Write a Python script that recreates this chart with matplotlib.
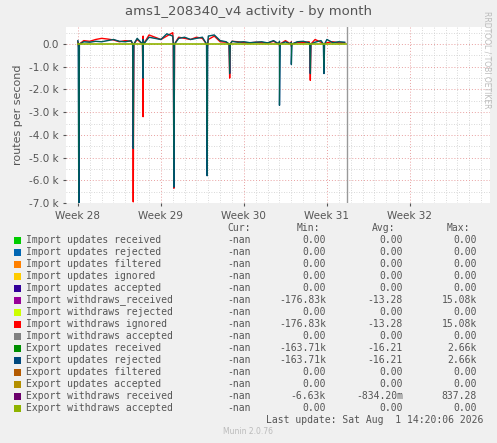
import matplotlib
matplotlib.use("Agg")
import matplotlib.pyplot as plt
import numpy as np

W, H = 497, 443
# baseline (every 0.5 day, days since Week 28 start)
base_days = [i * 0.5 for i in range(46)]
red_base = [100, 150, 120, 200, 250, 220, 180, 100, 150, 120, 200, 350, 400, 300, 200, 350,
            500, 300, 250, 200, 300, 250, 200, 350, 100, 80, 120, 100, 60, 50, 80, 60, 50, 120,
            80, 150, 100, 80, 60, 100, 200, 80, 60, 100, 50, 60]
teal_base = [150, 100, 80, 120, 100, 150, 200, 120, 100, 150, 250, 200, 300, 250, 200, 450,
             350, 250, 300, 200, 250, 300, 350, 400, 150, 100, 120, 80, 100, 60, 80, 100, 50, 150,
             120, 100, 80, 100, 120, 60, 80, 150, 200, 60, 100, 80]
# spikes: day, red (import withdraws ignored), teal (export updates rejected)
spike_days = [0.08, 4.67, 5.5, 8.1, 10.9, 12.8, 17.0, 18.0, 19.6, 20.75]
spike_red = [-200, -6950, -3200, -6350, -300, -1500, -100, -100, -1600, -100]
spike_teal = [-7000, -4600, -1500, -6300, -5800, -1300, -2700, -900, -1300, -1300]
end_day = 22.7

names = ["Import updates received", "Import updates rejected", "Import updates filtered",
         "Import updates ignored", "Import updates accepted", "Import withdraws_received",
         "Import withdraws rejected", "Import withdraws ignored", "Import withdraws accepted",
         "Export updates received", "Export updates rejected", "Export updates filtered",
         "Export updates accepted", "Export withdraws received", "Export withdraws accepted"]
colors = ["#00cc00", "#0066b3", "#ff8000", "#ffcc00", "#330099", "#990099", "#ccff00",
          "#ff0000", "#808080", "#008f00", "#00487d", "#b35a00", "#b38f00", "#6b006b", "#8fb300"]
cur = ["-nan"] * 15
mins = ["0.00", "0.00", "0.00", "0.00", "0.00", "-176.83k", "0.00", "-176.83k", "0.00",
        "-163.71k", "-163.71k", "0.00", "0.00", "-6.63k", "0.00"]
avgs = ["0.00", "0.00", "0.00", "0.00", "0.00", "-13.28", "0.00", "-13.28", "0.00",
        "-16.21", "-16.21", "0.00", "0.00", "-834.20m", "0.00"]
maxs = ["0.00", "0.00", "0.00", "0.00", "0.00", "15.08k", "0.00", "15.08k", "0.00",
        "2.66k", "2.66k", "0.00", "0.00", "837.28", "0.00"]
week_labels = ["Week 28", "Week 29", "Week 30", "Week 31", "Week 32"]

def series(base, spikes):
    d = list(base_days)
    v = list(base)
    for sd, sv in zip(spike_days, spikes):
        d += [sd - 0.05, sd, sd + 0.05]
        v += [0, sv, 0]
    o = np.argsort(d)
    return np.array(d)[o], np.array(v)[o]

fig = plt.figure(figsize=(W / 100, H / 100), dpi=100, facecolor="#f0f0f0")
ax = fig.add_axes([66 / W, 1 - 203 / H, (490 - 66) / W, (203 - 27) / H])
ax.set_facecolor("white")
x0 = -12 / 84 * 7
x1 = 4 * 7 + 81 / 84 * 7
ax.set_xlim(x0, x1)
ax.set_ylim(-7000, 750)

dr, vr = series(red_base, spike_red)
dt, vt = series(teal_base, spike_teal)
ax.plot(dr, vr, color="#ff0000", lw=1)
ax.plot(dt, vt, color="#00487d", lw=1)
ax.plot(dt, vt, color="#008f00", lw=0.4, alpha=0.5)
ax.plot([0, end_day], [0, 0], color="#8fb300", lw=1.2)
ax.axvline(end_day, color="#999999", lw=1)

ax.set_yticks(np.arange(-7000, 1, 1000))
ax.set_yticklabels(["%.1f k" % (v / 1000) if v != 0 else "0.0" for v in np.arange(-7000, 1, 1000)])
ax.set_yticks(np.arange(-7000, 700, 500), minor=True)
ax.set_xticks([0, 7, 14, 21, 28])
ax.set_xticklabels(week_labels)
ax.set_xticks(np.arange(0, x1, 1), minor=True)
ax.grid(True, which="major", color="#e8a0a0", ls=(0, (1, 2)), lw=0.7)
ax.grid(True, which="minor", color="#cccccc", ls=(0, (1, 2)), lw=0.6)
ax.tick_params(labelsize=7.5, colors="#555555", length=2)
ax.tick_params(which="minor", length=0)
for s in ax.spines.values():
    s.set_visible(False)
ax.set_ylabel("routes per second", fontsize=8, color="#555555")
fig.text(0.5, 1 - 12 / H, "ams1_208340_v4 activity - by month", ha="center", va="center",
         fontsize=9.5, color="#555555")
fig.text(487 / W, 1 - 60 / H, "RRDTOOL / TOBI OETIKER", rotation=270, ha="center", va="center",
         fontsize=5.5, color="#bbbbbb")

mono = dict(family="DejaVu Sans Mono", fontsize=7, color="#555555")
def ty(px):
    return 1 - px / H
fig.text(251 / W, ty(228), "Cur:", ha="right", va="center", **mono)
fig.text(320 / W, ty(228), "Min:", ha="right", va="center", **mono)
fig.text(395 / W, ty(228), "Avg:", ha="right", va="center", **mono)
fig.text(470 / W, ty(228), "Max:", ha="right", va="center", **mono)
for i in range(15):
    y = 240 + i * 12
    fig.patches.append(plt.Rectangle((14 / W, ty(y + 3.5)), 7 / W, 7 / H, transform=fig.transFigure,
                                     facecolor=colors[i], edgecolor="none"))
    fig.text(26 / W, ty(y), names[i], ha="left", va="center", **mono)
    fig.text(251 / W, ty(y), cur[i], ha="right", va="center", **mono)
    fig.text(326 / W, ty(y), mins[i], ha="right", va="center", **mono)
    fig.text(403 / W, ty(y), avgs[i], ha="right", va="center", **mono)
    fig.text(477 / W, ty(y), maxs[i], ha="right", va="center", **mono)
fig.text(483 / W, ty(420), "Last update: Sat Aug  1 14:20:06 2026", ha="right", va="center", **mono)
fig.text(248 / W, ty(432), "Munin 2.0.76", ha="center", va="center", fontsize=5.5, color="#bbbbbb")
fig.savefig("out.png", dpi=100, facecolor=fig.get_facecolor())
